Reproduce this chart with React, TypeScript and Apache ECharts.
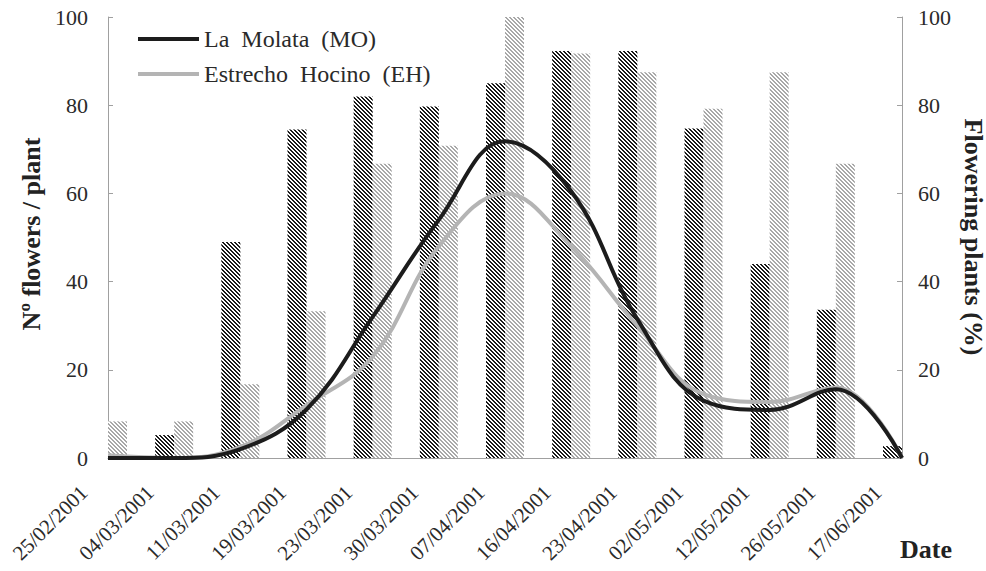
import React, { useEffect, useRef } from "react";
import * as echarts from "echarts";

const dates = [
  "25/02/2001", "04/03/2001", "11/03/2001", "19/03/2001", "23/03/2001",
  "30/03/2001", "07/04/2001", "16/04/2001", "23/04/2001", "02/05/2001",
  "12/05/2001", "26/05/2001", "17/06/2001",
];
const moPlants = [0, 5.2, 49, 74.5, 82, 79.7, 85, 92.3, 92.3, 74.7, 44, 33.6, 2.7];
const ehPlants = [8.3, 8.3, 16.7, 33.3, 66.7, 70.8, 100, 91.7, 87.5, 79.2, 87.5, 66.7, 0];
const moFlowers = [0, 0, 2, 11, 32, 54, 71.8, 60.5, 31.5, 13, 10.9, 15.6, 0];
const ehFlowers = [0.6, 0, 2.5, 12, 23, 48, 60, 48, 30, 14.5, 12.7, 16, 0];
const yTicks = [0, 20, 40, 60, 80, 100];

const MO_NAME = "La  Molata  (MO)";
const EH_NAME = "Estrecho  Hocino  (EH)";
const FONT = "'Liberation Serif', 'Times New Roman', serif";

function hatch(color: string, size: number, w: number) {
  const c = document.createElement("canvas");
  c.width = size;
  c.height = size;
  const ctx = c.getContext("2d")!;
  ctx.fillStyle = "#ffffff";
  ctx.fillRect(0, 0, size, size);
  ctx.fillStyle = color;
  for (let y = 0; y < size; y++) {
    for (let x = 0; x < size; x++) {
      if ((((x - y) % size) + size) % size < w) ctx.fillRect(x, y, 1, 1);
    }
  }
  return { image: c, repeat: "repeat", imageWidth: size, imageHeight: size } as any;
}

export default function App() {
  const ref = useRef<HTMLDivElement>(null);
  useEffect(() => {
    if (!ref.current) return;
    const chart = echarts.init(ref.current, undefined, { renderer: "svg" });
    const yAxisCommon = {
      type: "value",
      min: yTicks[0],
      max: yTicks[yTicks.length - 1],
      interval: 20,
      splitLine: { show: false },
      axisLine: { show: true, lineStyle: { color: "#a0a0a0", width: 1 } },
      axisTick: { show: true, inside: true, length: 5, lineStyle: { color: "#a0a0a0" } },
      axisLabel: { fontFamily: FONT, fontSize: 22, color: "#2a2a2a" },
    };
    chart.setOption({
      animation: false,
      backgroundColor: "#ffffff",
      grid: { left: 108, right: 84, top: 17, bottom: 113 },
      legend: {
        orient: "vertical",
        left: 138,
        top: 27,
        padding: 0,
        icon: "rect",
        itemWidth: 61,
        itemHeight: 4,
        itemGap: 11,
        data: [MO_NAME, EH_NAME],
        textStyle: { fontFamily: FONT, fontSize: 24, lineHeight: 20, color: "#2a2a2a" },
      },
      xAxis: {
        type: "category",
        data: dates,
        boundaryGap: false,
        axisLine: { lineStyle: { color: "#a0a0a0", width: 1 } },
        axisTick: { show: false },
        axisLabel: {
          interval: 0,
          rotate: 45,
          margin: 7,
          padding: [0, 34, 0, 0],
          fontFamily: FONT,
          fontSize: 21,
          color: "#2a2a2a",
        },
      },
      yAxis: [
        { ...yAxisCommon, position: "left", axisLabel: { ...yAxisCommon.axisLabel, margin: 20 } },
        { ...yAxisCommon, position: "right", axisLabel: { ...yAxisCommon.axisLabel, margin: 16 } },
      ],
      graphic: [
        {
          type: "text",
          x: 31,
          y: 234,
          rotation: Math.PI / 2,
          style: {
            text: "Nº flowers / plant",
            fontFamily: FONT,
            fontSize: 26,
            fontWeight: "bold",
            fill: "#222",
            textAlign: "center",
            textVerticalAlign: "middle",
          },
        },
        {
          type: "text",
          x: 973,
          y: 237,
          rotation: -Math.PI / 2,
          style: {
            text: "Flowering plants (%)",
            fontFamily: FONT,
            fontSize: 26,
            fontWeight: "bold",
            fill: "#222",
            textAlign: "center",
            textVerticalAlign: "middle",
          },
        },
        {
          type: "text",
          x: 926,
          y: 549,
          style: {
            text: "Date",
            fontFamily: FONT,
            fontSize: 26,
            fontWeight: "bold",
            fill: "#222",
            textAlign: "center",
            textVerticalAlign: "middle",
          },
        },
      ],
      series: [
        {
          name: "MO plants",
          type: "bar",
          yAxisIndex: 1,
          data: moPlants,
          barWidth: 19,
          barGap: "0%",
          itemStyle: { color: hatch("#1a1a1a", 4, 2) },
          z: 1,
        },
        {
          name: "EH plants",
          type: "bar",
          yAxisIndex: 1,
          data: ehPlants,
          barWidth: 19,
          barGap: "0%",
          itemStyle: { color: hatch("#a8a8a8", 4, 2) },
          z: 1,
        },
        {
          name: MO_NAME,
          type: "line",
          yAxisIndex: 0,
          data: moFlowers,
          smooth: 0.4,
          symbol: "none",
          lineStyle: { color: "#1c1c1c", width: 4 },
          itemStyle: { color: "#1c1c1c" },
          z: 4,
        },
        {
          name: EH_NAME,
          type: "line",
          yAxisIndex: 0,
          data: ehFlowers,
          smooth: 0.4,
          symbol: "none",
          lineStyle: { color: "#b4b4b4", width: 4 },
          itemStyle: { color: "#b4b4b4" },
          z: 3,
        },
      ],
    });
    return () => chart.dispose();
  }, []);
  return (
    <div
      ref={ref}
      style={{ position: "fixed", left: 0, top: 0, width: 986, height: 571, background: "#fff" }}
    />
  );
}
